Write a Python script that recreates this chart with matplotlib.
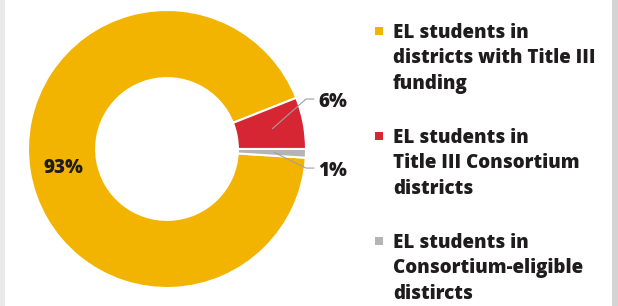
import matplotlib.pyplot as plt
import numpy as np
from matplotlib.patches import Rectangle

# -------------------------
# DATA
# -------------------------
labels = [
    "EL students in\ndistricts with Title III\nfunding",
    "EL students in\nTitle III Consortium\ndistricts",
    "EL students in\nConsortium-eligible\ndistircts",
]
shares = [93, 6, 1]
pct_labels = ["93%", "6%", "1%"]
colors = ["#F2B400", "#D62633", "#B4B4B4"]

# -------------------------
# FIGURE
# -------------------------
W, H = 618, 306
fig = plt.figure(figsize=(W / 100, H / 100), dpi=100)
fig.patch.set_facecolor("white")

# light grey page strips at the edges
fig.patches.append(Rectangle((0, 0), 5 / W, 1, transform=fig.transFigure,
                             facecolor="#e9e9e9", edgecolor="none"))
fig.patches.append(Rectangle((612 / W, 0), 6 / W, 1, transform=fig.transFigure,
                             facecolor="#d4d4d4", edgecolor="none"))

cx, cy, r = 167, 157, 139
ax = fig.add_axes([(cx - r) / W, (cy - r) / H, 2 * r / W, 2 * r / H])

wedges, _ = ax.pie(
    shares,
    colors=colors,
    startangle=-360 * shares[2] / 100,
    counterclock=False,
    radius=1.0,
    wedgeprops=dict(width=0.49, edgecolor="white", linewidth=1.5),
)
ax.set_xlim(-1, 1)
ax.set_ylim(-1, 1)
ax.set_aspect("equal")
ax.axis("off")

font = dict(family="Open Sans", weight="heavy", size=13.5, color="#1f1c1d")

# big slice label inside the ring
w = wedges[0]
mid = np.deg2rad((w.theta1 + w.theta2) / 2)
ax.text(0.755 * np.cos(mid), 0.755 * np.sin(mid) - 0.055, pct_labels[0],
        ha="center", va="baseline", **font)

# small slices: elbow leader lines
offsets = [None, 0.215, -0.113]
for i in (1, 2):
    w = wedges[i]
    mid = np.deg2rad((w.theta1 + w.theta2) / 2)
    x0, y0 = 0.77 * np.cos(mid), 0.77 * np.sin(mid)
    x1, y1 = 1.0, y0 + offsets[i]
    x2 = 1.06
    ax.plot([x0, x1, x2], [y0, y1, y1], color="#a0a0a0", lw=0.8,
            clip_on=False, solid_capstyle="butt")
    ax.text(x2 + 0.03, y1 - 0.06, pct_labels[i], ha="left", va="baseline", **font)

# legend drawn by hand so the marker sits on the first line
first_baselines = [38, 143, 248]
line_step = 25.3
for lab, col, yb in zip(labels, colors, first_baselines):
    fig.patches.append(Rectangle((375 / W, (H - yb + 3) / H), 8 / W, 8 / H,
                                 transform=fig.transFigure,
                                 facecolor=col, edgecolor="none"))
    for k, line in enumerate(lab.split("\n")):
        fig.text(393 / W, (H - yb - k * line_step) / H, line,
                 ha="left", va="baseline", **font)

fig.savefig("out.png", dpi=100)
